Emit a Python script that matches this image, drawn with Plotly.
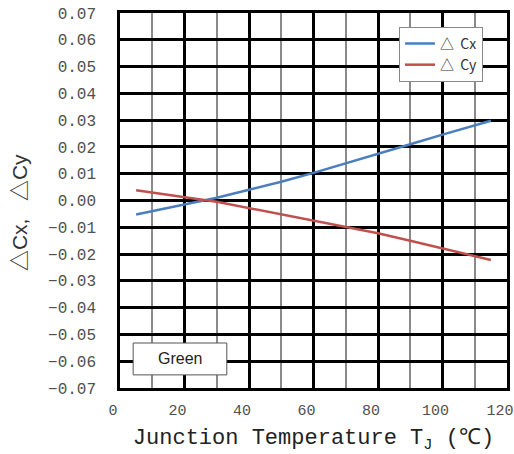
import plotly.graph_objects as go

temps = [5, 10, 20, 25, 30, 40, 50, 60, 70, 80, 90, 100, 110, 115]
delta_cx = [-0.0052, -0.0040, -0.0015, -0.0003, 0.0010, 0.0040, 0.0070, 0.0103,
            0.0138, 0.0174, 0.0210, 0.0246, 0.0280, 0.0298]
delta_cy = [0.0038, 0.0030, 0.0013, 0.0004, -0.0005, -0.0028, -0.0051, -0.0075,
            -0.0098, -0.0122, -0.0150, -0.0178, -0.0207, -0.0222]

y_ticks = [round(-0.07 + 0.01 * i, 2) for i in range(15)]
y_ticktext = [("\u2212" if v < 0 else "") + f"{abs(v):.2f}" for v in y_ticks]
x_ticks = [0, 20, 40, 60, 80, 100, 120]
x_ticktext = ["0", "20", "40", "60", "80", "100", "120"]

fig = go.Figure()
fig.add_trace(go.Scatter(x=temps, y=delta_cx, mode="lines", name="\u25b3\u00a0\u00a0Cx",
                         line=dict(color="#4a7ebf", width=2.5)))
fig.add_trace(go.Scatter(x=temps, y=delta_cy, mode="lines", name="\u25b3\u00a0\u00a0Cy",
                         line=dict(color="#c0504d", width=2.5)))

mono = "Liberation Mono, DejaVu Sans Mono, monospace"

fig.update_layout(
    width=514, height=454,
    margin=dict(l=120, r=7, t=13, b=66),
    paper_bgcolor="white", plot_bgcolor="white",
    showlegend=True,
    legend=dict(x=0.938, y=0.963, xanchor="right", yanchor="top",
                bgcolor="white", bordercolor="#888888", borderwidth=1,
                font=dict(family="Noto Sans CJK KR, Liberation Sans, sans-serif", size=14, color="#333333"),
                itemwidth=30, tracegroupgap=0),
    xaxis=dict(range=[0, 120], tickvals=x_ticks, ticktext=x_ticktext,
               showgrid=True, gridcolor="black", gridwidth=2.5,
               minor=dict(dtick=10, tick0=0, showgrid=True, gridcolor="#8a8a8a", gridwidth=1.5),
               showline=True, linecolor="black", linewidth=2.5, mirror=True,
               zeroline=False, ticks="", ticklabelstandoff=6, ticklabelshift=-7,
               ticklabeloverflow="allow",
               tickfont=dict(family=mono, size=15, color="#505050"),
               automargin=False,
               title=dict(text="Junction Temperature T<sub>J</sub> (\u2103)",
                          font=dict(family=mono, size=22, color="#222222"),
                          standoff=20)),
    yaxis=dict(range=[-0.07, 0.07], tickvals=y_ticks, ticktext=y_ticktext,
               showgrid=True, gridcolor="black", gridwidth=2.5,
               showline=True, linecolor="black", linewidth=2.5, mirror=True,
               zeroline=False, ticks="", ticklabelstandoff=18,
               tickfont=dict(family=mono, size=16, color="#505050"),
               automargin=False),
    shapes=[dict(type="rect", xref="paper", yref="paper", x0=0.034, x1=0.276, y0=0.035, y1=0.12,
                 line=dict(color="#555555", width=1), fillcolor="white", layer="above")],
    annotations=[
        dict(xref="paper", yref="paper", x=0.155, y=0.0775, text="Green", showarrow=False,
             font=dict(family="Liberation Sans, Arial, sans-serif", size=16, color="#222222"),
             xanchor="center", yanchor="middle"),
        dict(xref="paper", yref="paper", x=-0.261, y=0.469, textangle=-90,
             text="\u25b3Cx,\u00a0\u00a0\u00a0\u25b3Cy", showarrow=False,
             font=dict(family="Liberation Sans, Noto Sans CJK KR, sans-serif", size=21, color="#333333"),
             xanchor="center", yanchor="middle"),
    ],
)

fig.write_html("out.html", config={"displayModeBar": False},
               post_script="document.body.style.margin='0';")
